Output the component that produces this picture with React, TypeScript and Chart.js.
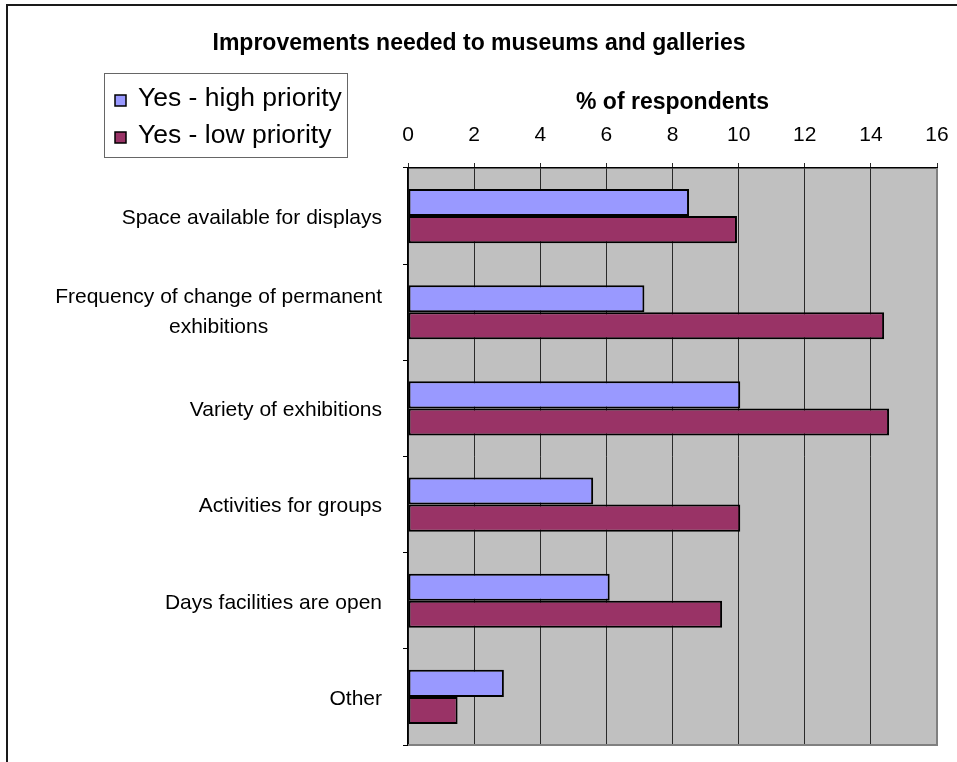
import React, { useEffect, useRef } from "react";
import { Chart, registerables } from "chart.js";

Chart.register(...registerables);

const TITLE = "Improvements needed to museums and galleries";
const AXIS_TITLE = "% of respondents";
const categories: (string | string[])[] = [
  "Space available for displays",
  ["Frequency of change of permanent", "exhibitions"],
  "Variety of exhibitions",
  "Activities for groups",
  "Days facilities are open",
  "Other",
];
const seriesNames = ["Yes - high priority", "Yes - low priority"];
const highPriority = [8.5, 7.15, 10.05, 5.6, 6.1, 2.9];
const lowPriority = [9.95, 14.4, 14.55, 10.05, 9.5, 1.5];
const seriesColors = ["#9999FF", "#993366"];
const xMin = 0;
const xMax = 16;
const xStep = 2;

const FONT = "'Liberation Sans', Arial, sans-serif";

const decorPlugin = {
  id: "decor",
  beforeDraw(chart: any) {
    const { ctx, chartArea: a } = chart;
    ctx.save();
    ctx.fillStyle = "#C0C0C0";
    ctx.fillRect(a.left, a.top, a.right - a.left, a.bottom - a.top);
    ctx.restore();
  },
  afterDatasetsDraw(chart: any) {
    const { ctx, chartArea: a } = chart;
    ctx.save();
    ctx.strokeStyle = "#808080";
    ctx.lineWidth = 2;
    ctx.beginPath();
    ctx.moveTo(a.right, a.top);
    ctx.lineTo(a.right, a.bottom);
    ctx.lineTo(a.left, a.bottom);
    ctx.stroke();
    ctx.restore();
  },
  afterDraw(chart: any) {
    const { ctx } = chart;
    ctx.save();
    // title
    ctx.fillStyle = "#000";
    ctx.font = `bold 23px ${FONT}`;
    ctx.textAlign = "center";
    ctx.textBaseline = "middle";
    ctx.fillText(TITLE, 471, 38);

    // legend
    const lx = 96, ly = 67, lw = 243, lh = 84;
    ctx.strokeStyle = "#666";
    ctx.lineWidth = 1;
    ctx.strokeRect(lx + 0.5, ly + 0.5, lw, lh);
    ctx.font = `26.5px ${FONT}`;
    ctx.textAlign = "left";
    chart.data.datasets.forEach((ds: any, i: number) => {
      const cy = 94 + i * 37;
      ctx.fillStyle = ds.backgroundColor;
      ctx.fillRect(107, cy - 5, 11, 11);
      ctx.strokeStyle = "#000";
      ctx.lineWidth = 1.5;
      ctx.strokeRect(107, cy - 5, 11, 11);
      ctx.fillStyle = "#000";
      ctx.fillText(ds.label, 130, cy - 1);
    });

    // y category labels (each block right-aligned, lines centred)
    const ys = chart.scales.y;
    ctx.font = `21px ${FONT}`;
    ctx.textAlign = "center";
    ctx.textBaseline = "middle";
    const right = 374;
    const lineGap = 30;
    chart.data.labels.forEach((lab: any, i: number) => {
      const lines = Array.isArray(lab) ? lab : [lab];
      const w = Math.max(...lines.map((l: string) => ctx.measureText(l).width));
      const cx = right - w / 2;
      const cy = ys.getPixelForValue(i) + (lines.length > 1 ? 0 : 2);
      lines.forEach((l: string, k: number) => {
        const y = cy + (k - (lines.length - 1) / 2) * lineGap;
        ctx.fillText(l, cx, y);
      });
    });
    ctx.restore();
  },
};

export default function App() {
  const ref = useRef<HTMLCanvasElement>(null);
  useEffect(() => {
    if (!ref.current) return;
    const chart = new Chart(ref.current, {
      type: "bar",
      data: {
        labels: categories as any,
        datasets: [
          {
            label: seriesNames[0],
            data: highPriority,
            backgroundColor: seriesColors[0],
            borderColor: "#000",
            borderWidth: 2,
            borderSkipped: false,
            barPercentage: 1,
            categoryPercentage: 0.5625,
          },
          {
            label: seriesNames[1],
            data: lowPriority,
            backgroundColor: seriesColors[1],
            borderColor: "#000",
            borderWidth: 2,
            borderSkipped: false,
            barPercentage: 1,
            categoryPercentage: 0.5625,
          },
        ],
      },
      options: {
        indexAxis: "y",
        responsive: false,
        animation: false,
        devicePixelRatio: 1,
        layout: { padding: { left: 0, right: 21, top: 0, bottom: 17 } },
        plugins: {
          legend: { display: false },
          title: { display: false },
          tooltip: { enabled: false },
        },
        scales: {
          x: {
            position: "top",
            min: xMin,
            max: xMax,
            afterFit: (s: any) => {
              s.height = 162;
              s.paddingLeft = 0;
              s.paddingRight = 0;
            },
            ticks: {
              stepSize: xStep,
              color: "#000",
              font: { family: FONT, size: 21 },
              padding: 15,
            },
            grid: {
              color: "#2a2a2a",
              lineWidth: 1,
              tickLength: 5,
              drawTicks: true,
            },
            border: { color: "#000", width: 1.5 },
            title: {
              display: true,
              text: AXIS_TITLE,
              color: "#000",
              font: { family: FONT, size: 23, weight: "bold" },
              padding: { top: 83, bottom: 0 },
            },
          },
          y: {
            afterFit: (s: any) => {
              s.width = 400;
              s.paddingTop = 0;
              s.paddingBottom = 0;
            },
            ticks: { display: false },
            grid: {
              offset: true,
              drawOnChartArea: false,
              drawTicks: true,
              tickLength: 5,
              color: "#000",
            },
            border: { color: "#000", width: 1.5 },
          },
        },
      },
      plugins: [decorPlugin],
    } as any);
    return () => chart.destroy();
  }, []);

  return (
    <div style={{ position: "fixed", inset: 0, overflow: "hidden", background: "#fff" }}>
      <div
        style={{
          position: "absolute",
          left: 6,
          top: 4,
          width: 1000,
          height: 800,
          borderTop: "2px solid #1a1a1a",
          borderLeft: "2px solid #1a1a1a",
        }}
      >
        <canvas
          ref={ref}
          width={950}
          height={756}
          style={{ position: "absolute", left: 0, top: 0, width: 950, height: 756 }}
        />
      </div>
    </div>
  );
}
